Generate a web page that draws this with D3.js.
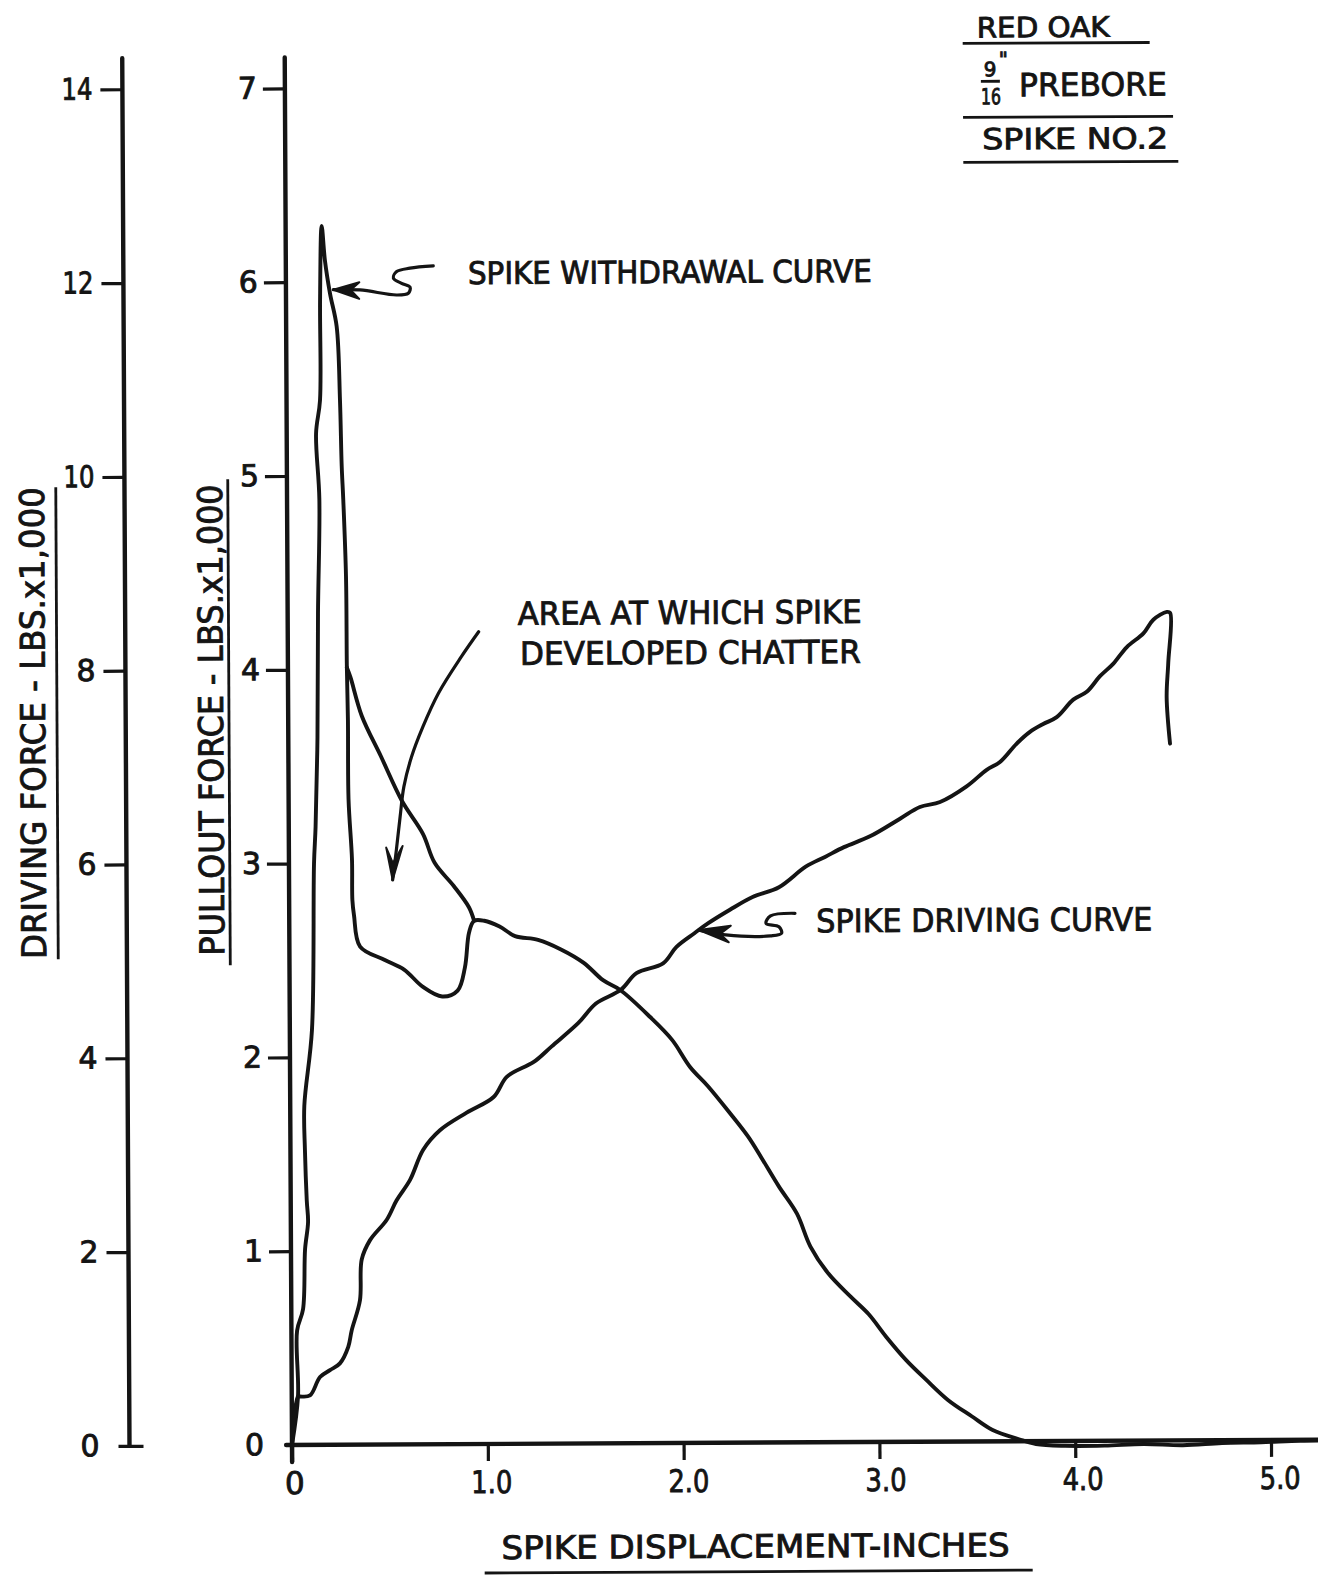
<!DOCTYPE html>
<html>
<head>
<meta charset="utf-8">
<script src="https://cdn.jsdelivr.net/npm/d3@7"></script>
<style>
  body { margin: 0; background: #fff; }
  svg { display: block; background: #fff; }
  text { font-family: "DejaVu Sans", sans-serif; fill: #141414; stroke: #141414; stroke-width: 0.9px; }
  .curve { fill: none; stroke: #141414; stroke-width: 3.9px; stroke-linejoin: round; stroke-linecap: round; }
  .pen { fill: none; stroke: #141414; stroke-width: 3.2px; stroke-linejoin: round; stroke-linecap: round; }
  .head { fill: #141414; stroke: #141414; stroke-width: 2px; stroke-linejoin: round; }
  .axisline { stroke: #141414; stroke-width: 4.4px; stroke-linecap: round; }
  .rule { stroke: #141414; stroke-width: 2.8px; }
  .tick line { stroke: #141414; stroke-width: 3.2px; }
</style>
</head>
<body>
<svg width="1318" height="1575"></svg>
<script>
// spike displacement (in.) and pullout force (kips) - withdrawal curve
const withdrawalX = [0, 0.032, 0.029, 0.060, 0.072, 0.088, 0.082, 0.074, 0.072, 0.113, 0.128, 0.137, 0.149, 0.155, 0.165, 0.150, 0.171, 0.174, 0.184,
  0.200, 0.225, 0.258, 0.273, 0.280, 0.287, 0.299, 0.301, 0.305, 0.306, 0.322, 0.323, 0.331, 0.361, 0.487, 0.585, 0.681, 0.779, 0.858, 0.896, 0.918, 0.944,
  0.996, 1.074, 1.153, 1.270, 1.387, 1.503, 1.601, 1.687, 1.839, 1.952, 2.043, 2.134, 2.246, 2.337, 2.405, 2.494, 2.585, 2.653, 2.744, 2.857, 2.948, 3.039,
  3.140, 3.240, 3.351, 3.472, 3.576, 3.713, 3.80, 3.95, 4.15, 4.35, 4.55, 4.75, 4.95, 5.15, 5.35];
const withdrawalY = [0, 0.25, 0.59, 0.70, 1.01, 1.15, 1.26, 1.52, 1.75, 2.14, 3.00, 3.19, 3.65, 4.29, 4.88, 5.22, 5.39, 5.91, 6.29,
  6.11, 5.94, 5.77, 5.39, 5.05, 4.88, 4.48, 4.01, 3.74, 3.33, 3.02, 2.81, 2.73, 2.57, 2.50, 2.45, 2.36, 2.31, 2.34, 2.46, 2.64, 2.70,
  2.70, 2.67, 2.62, 2.60, 2.55, 2.48, 2.39, 2.34, 2.20, 2.08, 1.94, 1.84, 1.70, 1.58, 1.47, 1.32, 1.18, 1.01, 0.87, 0.75, 0.66, 0.54,
  0.42, 0.32, 0.215, 0.13, 0.06, 0.01, -0.015, -0.025, -0.025, -0.018, -0.025, -0.015, -0.012, -0.005, -0.005];

// second trace in the chatter area
const chatterX = [0.301, 0.319, 0.376, 0.473, 0.579, 0.685, 0.744, 0.841, 0.918, 0.944];
const chatterY = [4.01, 3.96, 3.76, 3.55, 3.32, 3.15, 3.00, 2.88, 2.77, 2.70];

// driving curve, driving force (kips)
const drivingX = [0, 0.032, 0.042, 0.093, 0.145, 0.196, 0.247, 0.290, 0.308, 0.351, 0.361, 0.404, 0.490, 0.541, 0.610, 0.678, 0.764, 0.901, 1.039, 1.108,
  1.245, 1.337, 1.474, 1.564, 1.692, 1.772, 1.908, 1.977, 2.069, 2.138, 2.251, 2.367, 2.502, 2.639, 2.738, 2.835, 2.968, 3.122, 3.224, 3.327,
  3.463, 3.566, 3.634, 3.720, 3.788, 3.856, 3.925, 4.010, 4.079, 4.147, 4.216, 4.285, 4.370, 4.421, 4.490, 4.507, 4.496, 4.487, 4.503];
const drivingY = [0, 0.50, 0.50, 0.51, 0.70, 0.77, 0.84, 1.01, 1.18, 1.49, 1.91, 2.11, 2.32, 2.52, 2.73, 3.04, 3.24, 3.42, 3.58, 3.79,
  3.94, 4.10, 4.34, 4.54, 4.68, 4.85, 4.95, 5.12, 5.26, 5.36, 5.50, 5.63, 5.73, 5.94, 6.04, 6.14, 6.25, 6.43, 6.55, 6.60,
  6.76, 6.93, 7.01, 7.20, 7.32, 7.40, 7.47, 7.65, 7.73, 7.89, 8.02, 8.19, 8.33, 8.47, 8.55, 8.54, 8.02, 7.67, 7.19];

const xTicks = [0, 1, 2, 3, 4, 5];
const xTickLabels = ["0", "1.0", "2.0", "3.0", "4.0", "5.0"];
const pullTicks = [0, 1, 2, 3, 4, 5, 6, 7];
const pullTickLabels = ["0", "1", "2", "3", "4", "5", "6", "7"];
const driveTicks = [0, 2, 4, 6, 8, 10, 12, 14];
const driveTickLabels = ["0", "2", "4", "6", "8", "10", "12", "14"];

// annotation arrows (displacement, pullout units)
const withdrawalArrowX = [0.753, 0.634, 0.566, 0.549, 0.591, 0.634, 0.625, 0.565, 0.378, 0.242];
const withdrawalArrowY = [6.080, 6.069, 6.052, 6.018, 5.991, 5.971, 5.940, 5.931, 5.958, 5.960];
const withdrawalHeadX = [0.242, 0.375, 0.330, 0.374];
const withdrawalHeadY = [5.960, 5.998, 5.958, 5.912];
const drivingArrowX = [2.583, 2.458, 2.435, 2.501, 2.514, 2.457, 2.229, 2.092];
const drivingArrowY = [2.730, 2.717, 2.679, 2.661, 2.627, 2.614, 2.620, 2.646];
const drivingHeadX = [2.092, 2.255, 2.200, 2.244];
const drivingHeadY = [2.646, 2.668, 2.625, 2.582];
const chatterArrowX = [0.975, 0.886, 0.768, 0.688, 0.629, 0.589, 0.569, 0.549, 0.529];
const chatterArrowY = [4.191, 4.063, 3.875, 3.703, 3.548, 3.394, 3.239, 3.068, 2.913];
const chatterHeadX = [0.529, 0.497, 0.531, 0.581];
const chatterHeadY = [2.913, 3.080, 3.000, 3.088];

const svg = d3.select("svg");
// the scanned sheet sits a little askew
const g = svg.append("g").attr("transform", "rotate(-0.3,292,1445)");

const x = d3.scaleLinear().domain([0, 5.3]).range([292, 292 + 5.3 * 195.8]);
const yPull = d3.scaleLinear().domain([0, 7]).range([1445, 1445 - 7 * 193.8]);
const yDrive = d3.scaleLinear().domain([0, 14]).range(yPull.range());
const leftAxisX = 129.5;

// axis lines
g.append("line").attr("class", "axisline")
  .attr("x1", x(0)).attr("x2", x(0)).attr("y1", yPull(-0.088)).attr("y2", yPull(7.16));
g.append("line").attr("class", "axisline")
  .attr("x1", leftAxisX).attr("x2", leftAxisX).attr("y1", yDrive(0)).attr("y2", yDrive(14.32));
g.append("line").attr("class", "axisline")
  .attr("x1", x(-0.03)).attr("x2", x(5.3)).attr("y1", yPull(0)).attr("y2", yPull(0));

// digits in the lettering are narrow; squeeze multi-char labels
const fitLabel = sel => sel.each(function () {
  const n = this.textContent.length;
  if (n > 1) d3.select(this).attr("textLength", n === 2 ? 31 : 41).attr("lengthAdjust", "spacingAndGlyphs");
});

// ticks
const ax = g.append("g").attr("transform", `translate(0,${yPull(0)})`)
  .call(d3.axisBottom(x).tickValues(xTicks).tickFormat((d, i) => xTickLabels[i]).tickSize(17).tickPadding(10).tickSizeOuter(0));
ax.select(".domain").remove();
ax.selectAll("text").attr("font-size", 31).attr("dx", (d, i) => 2 + i * 1.3).call(fitLabel);

const ap = g.append("g").attr("transform", `translate(${x(0)},0)`)
  .call(d3.axisLeft(yPull).tickValues(pullTicks).tickFormat((d, i) => pullTickLabels[i]).tickSize(22).tickPadding(6).tickSizeOuter(0));
ap.select(".domain").remove();
ap.selectAll(".tick").filter(d => d === 0).select("line").remove();
ap.selectAll("text").attr("font-size", 30);

const ad = g.append("g").attr("transform", `translate(${leftAxisX},0)`)
  .call(d3.axisLeft(yDrive).tickValues(driveTicks).tickFormat((d, i) => driveTickLabels[i]).tickSize(22).tickPadding(8).tickSizeOuter(0));
ad.select(".domain").remove();
ad.selectAll(".tick").filter(d => d === 0).select("line").attr("x1", -11).attr("x2", 14);
ad.selectAll("text").attr("font-size", 30).call(fitLabel);

// curves
const pullLine = d3.line().x(d => x(d[0])).y(d => yPull(d[1])).curve(d3.curveCatmullRom.alpha(0.5));
const driveLine = d3.line().x(d => x(d[0])).y(d => yDrive(d[1])).curve(d3.curveCatmullRom.alpha(0.5));
const zip = (a, b) => a.map((v, i) => [v, b[i]]);

g.append("path").attr("class", "curve").attr("d", pullLine(zip(withdrawalX, withdrawalY)));
g.append("path").attr("class", "curve").attr("d", pullLine(zip(chatterX, chatterY)));
g.append("path").attr("class", "curve").attr("d", driveLine(zip(drivingX, drivingY)));

// arrows
const headPoly = d3.line().x(d => x(d[0])).y(d => yPull(d[1]));
[[withdrawalArrowX, withdrawalArrowY, withdrawalHeadX, withdrawalHeadY],
 [drivingArrowX, drivingArrowY, drivingHeadX, drivingHeadY],
 [chatterArrowX, chatterArrowY, chatterHeadX, chatterHeadY]].forEach(([ax_, ay_, hx, hy]) => {
  g.append("path").attr("class", "pen").attr("d", pullLine(zip(ax_, ay_)));
  g.append("path").attr("class", "head").attr("d", headPoly(zip(hx, hy)) + "Z");
});

// labels
function label(str, px, py, size, len) {
  const t = g.append("text").attr("x", px).attr("y", py).attr("font-size", size).text(str);
  if (len) t.attr("textLength", len).attr("lengthAdjust", "spacingAndGlyphs");
  return t;
}
label("SPIKE WITHDRAWAL CURVE", 474, 285, 31, 404);
label("AREA AT WHICH SPIKE", 522, 626, 32, 344);
label("DEVELOPED CHATTER", 524, 666, 32, 341);
label("SPIKE DRIVING CURVE", 819, 935, 32, 336);

// title block
label("RED OAK", 984, 41, 28, 133);
g.append("line").attr("class", "rule").attr("x1", 970).attr("x2", 1157).attr("y1", 47).attr("y2", 47);
label("9", 991, 80, 20);
g.append("text").attr("x", 1006).attr("y", 70).attr("font-size", 20).text("\"");
g.append("line").attr("class", "rule").attr("x1", 988).attr("x2", 1007).attr("y1", 85).attr("y2", 85);
label("16", 988, 108, 22, 20);
label("PREBORE", 1026, 100, 32, 148);
g.append("line").attr("class", "rule").attr("x1", 970).attr("x2", 1180).attr("y1", 121).attr("y2", 121);
label("SPIKE NO.2", 989, 153, 29, 186);
g.append("line").attr("class", "rule").attr("x1", 970).attr("x2", 1185).attr("y1", 166).attr("y2", 166);

// axis titles
g.append("text").attr("transform", "translate(48.8,721.7) rotate(-90)").attr("text-anchor", "middle")
  .attr("font-size", 34).attr("textLength", 472).attr("lengthAdjust", "spacingAndGlyphs")
  .text("DRIVING FORCE - LBS.x1,000");
g.append("line").attr("class", "rule").attr("x1", 60.8).attr("x2", 60.8).attr("y1", 486).attr("y2", 958);
g.append("text").attr("transform", "translate(226.8,719.6) rotate(-90)").attr("text-anchor", "middle")
  .attr("font-size", 34).attr("textLength", 471).attr("lengthAdjust", "spacingAndGlyphs")
  .text("PULLOUT FORCE - LBS.x1,000");
g.append("line").attr("class", "rule").attr("x1", 232.8).attr("x2", 232.8).attr("y1", 479).attr("y2", 965);
label("SPIKE DISPLACEMENT-INCHES", 501, 1560, 32, 508);
g.append("line").attr("class", "rule").attr("x1", 484).attr("x2", 1032).attr("y1", 1574).attr("y2", 1574);
</script>
</body>
</html>
